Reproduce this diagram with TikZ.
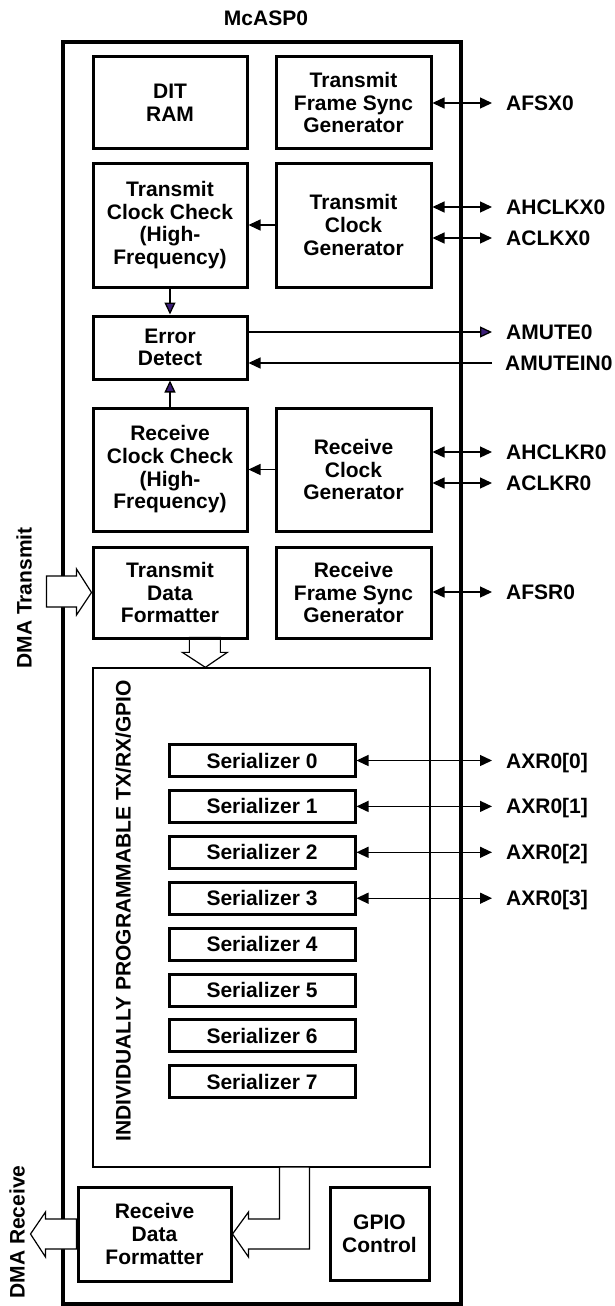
\documentclass[tikz,border=0pt]{standalone}
\usepackage{fontspec}
\setmainfont{Liberation Sans}
\usetikzlibrary{arrows.meta,calc,backgrounds}
\definecolor{arrpurple}{RGB}{60,30,120}
\begin{document}
\begin{tikzpicture}[x=1pt,y=-1pt,
  font=\fontsize{21}{22.7}\selectfont\bfseries,
  blk/.style={draw,line width=3pt,inner sep=0pt,align=center},
  ser/.style={draw,line width=3pt,inner sep=0pt,minimum width=186pt,minimum height=32pt},
  lbl/.style={anchor=west,inner sep=0pt,text height=15pt,text depth=0pt},
  rlbl/.style={rotate=90,inner sep=0pt,text height=15pt,text depth=0pt},
  thinln/.style={line width=1.3pt},
  dbl/.style={thinln,{Triangle[length=12pt,width=11pt]}-{Triangle[length=12pt,width=11pt]}},
  sarr/.style={thinln,-{Triangle[length=12pt,width=11pt]}},
  parr/.style={thinln,-{Triangle[length=12pt,width=11pt,fill=arrpurple]}},
  hollow/.style={draw,fill=white,line width=1.2pt,line join=miter},
]
\useasboundingbox (0,0) rectangle (615,1306);

% title
\node[inner sep=0pt,text height=15pt,text depth=0pt] (title) at (266,18) {McASP0};

% blocks
\node[blk,minimum width=154pt,minimum height=91pt] (dit) at (170,102.5) {DIT\\RAM};
\node[blk,minimum width=155pt,minimum height=91pt] (tfsg) at (353.5,102.5) {Transmit\\Frame Sync\\Generator};
\node[blk,minimum width=154pt,minimum height=124pt] (tcc) at (170,225) {Transmit\\Clock Check\\(High-\\Frequency)};
\node[blk,minimum width=155pt,minimum height=124pt] (tcg) at (353.5,225) {Transmit\\Clock\\Generator};
\node[blk,minimum width=154pt,minimum height=63pt] (ed) at (170,347.5) {Error\\Detect};
\node[blk,minimum width=154pt,minimum height=123pt] (rcc) at (170,469.5) {Receive\\Clock Check\\(High-\\Frequency)};
\node[blk,minimum width=155pt,minimum height=123pt] (rcg) at (353.5,469.5) {Receive\\Clock\\Generator};
\node[blk,minimum width=154pt,minimum height=91pt] (tdf) at (170,592.5) {Transmit\\Data\\Formatter};
\node[blk,minimum width=155pt,minimum height=91pt] (rfsg) at (353.5,592.5) {Receive\\Frame Sync\\Generator};
\node[blk,minimum width=153pt,minimum height=94pt] (rdf) at (154.5,1234) {Receive\\Data\\Formatter};
\node[blk,minimum width=99pt,minimum height=93pt] (gpio) at (379.5,1233.5) {GPIO\\Control};

% serializers
\foreach \i in {0,...,7} {
  \node[ser] (s\i) at (262,{760.5+45.9*\i}) {Serializer \i};
}
\node[rlbl] (prog) at (123,911) {INDIVIDUALLY PROGRAMMABLE TX/RX/GPIO};

% side labels
\node[rlbl] (dmatx) at (24,598) {DMA Transmit};
\node[rlbl] (dmarx) at (17,1232) {DMA Receive};

% pin labels
\node[lbl] (lAFSX) at (506,103) {AFSX0};
\node[lbl] (lAHCLKX) at (506,207) {AHCLKX0};
\node[lbl] (lACLKX) at (506,238) {ACLKX0};
\node[lbl] (lAMUTE) at (506,332) {AMUTE0};
\node[lbl] (lAMUTEIN) at (505,363) {AMUTEIN0};
\node[lbl] (lAHCLKR) at (506,452) {AHCLKR0};
\node[lbl] (lACLKR) at (506,483) {ACLKR0};
\node[lbl] (lAFSR) at (506,592) {AFSR0};
\foreach \i in {0,...,3} {
  \node[lbl] (lAXR\i) at (506,{760.5+45.9*\i}) {AXR0[\i]};
}

\begin{scope}[on background layer]
  \node[draw,line width=3.5pt,inner sep=0pt,minimum width=398pt,minimum height=1262pt] (outer) at (262,673) {};
  \node[draw,line width=1.3pt,inner sep=0pt,minimum width=337pt,minimum height=499pt] (area) at (261.5,917.5) {};
  % DMA transmit hollow arrow
  \draw[hollow] (tdf.west) -- ++(-15,-23.5) -- ++(0,7) -- ++(-30,0) -- ++(0,31) -- ++(30,0) -- ++(0,8) -- cycle;
  % TDF to serializer area
  \draw[hollow] ([xshift=113pt]area.north west) -- ++(22,-15) -- ++(-7,0) -- ++(0,-15) -- ++(-31,0) -- ++(0,15) -- ++(-7,0) -- cycle;
  % serializer area to RDF (elbow)
  \draw[hollow] (rdf.east) -- ++(16,-22) -- ++(0,7) -- ++(31,0) -- ++(0,-52) -- ++(30,0) -- ++(0,82) -- ++(-61,0) -- ++(0,8) -- cycle;
  % DMA receive hollow arrow
  \draw[hollow] ([xshift=-46pt]rdf.west) -- ++(15,-22) -- ++(0,7) -- ++(31,0) -- ++(0,30) -- ++(-31,0) -- ++(0,8) -- cycle;
\end{scope}

% internal connectors
\draw[sarr] (tcg.west) -- (tcc.east);
\draw[sarr] (rcg.west) -- (rcc.east);
\draw[parr] (tcc.south) -- (ed.north);
\draw[parr] (rcc.north) -- (ed.south);

% pin connectors
\draw[dbl] (lAFSX.west -| tfsg.east) -- ([xshift=-14pt]lAFSX.west);
\draw[dbl] (lAHCLKX.west -| tcg.east) -- ([xshift=-14pt]lAHCLKX.west);
\draw[dbl] (lACLKX.west -| tcg.east) -- ([xshift=-14pt]lACLKX.west);
\draw[parr] (lAMUTE.west -| ed.east) -- ([xshift=-14pt]lAMUTE.west);
\draw[sarr] ([xshift=-13pt]lAMUTEIN.west) -- (lAMUTEIN.west -| ed.east);
\draw[dbl] (lAHCLKR.west -| rcg.east) -- ([xshift=-14pt]lAHCLKR.west);
\draw[dbl] (lACLKR.west -| rcg.east) -- ([xshift=-14pt]lACLKR.west);
\draw[dbl] (lAFSR.west -| rfsg.east) -- ([xshift=-14pt]lAFSR.west);
\foreach \i in {0,...,3} {
  \draw[dbl] (s\i.east) -- ([xshift=-14pt]lAXR\i.west);
}
\end{tikzpicture}
\end{document}
